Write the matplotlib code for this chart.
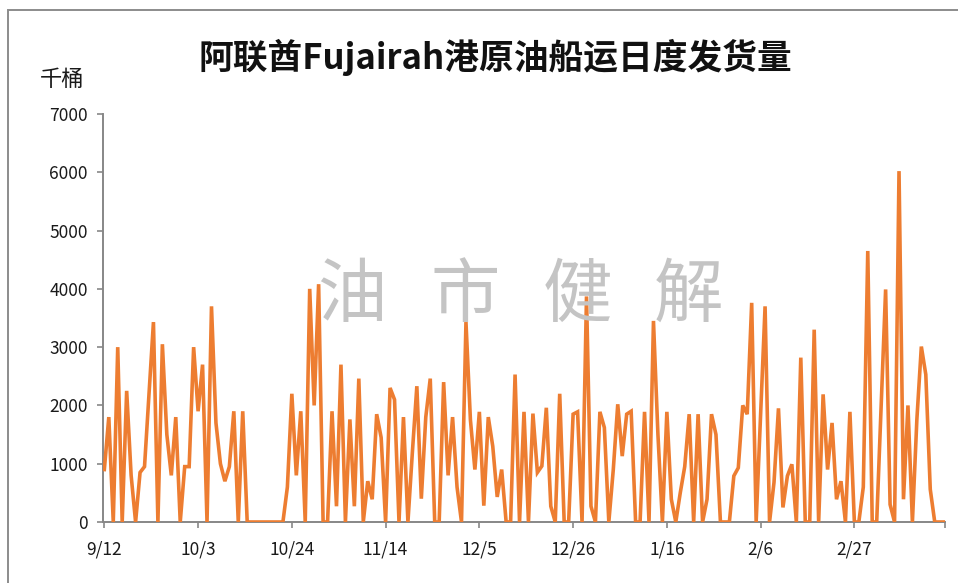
import numpy as np
import pandas as pd
import matplotlib
matplotlib.use('Agg')
import matplotlib.pyplot as plt
from matplotlib.patches import Rectangle

plt.rcParams['font.family'] = ['Noto Sans CJK SC', 'DejaVu Sans']

# daily loadings, thousand barrels, from 9/12 onward
loadings = [
    900, 1800, 0, 3000, 0, 2250, 800, 0, 850, 950,
    2200, 3430, 0, 3050, 1500, 800, 1800, 0, 950, 950,
    3000, 1900, 2700, 0, 3700, 1700, 1000, 700, 950, 1900, 0, 1900,
    0, 0, 0, 0, 0, 0, 0, 0, 0,
    600, 2200, 800, 1900, 0, 4000, 2000, 4080, 0, 0, 1900, 270, 2700, 0, 1760, 270,
    2460, 0, 700, 390, 1850, 1450, 0, 2300, 2100, 0, 1800, 0, 1200, 2330, 400, 1800, 2460, 0, 0,
    2400, 800, 1800, 600, 0, 3430, 1750, 900, 1890, 280, 1800, 1300, 430, 900, 0, 0, 2530, 0, 1890,
    0, 1860, 850, 960, 1960, 270, 0, 2200, 0, 0, 1850, 1890, 0, 3870, 270, 0, 1890, 1620, 0,
    900, 2020, 1130, 1850, 1900, 0, 0, 1890, 0, 3450, 1500, 0, 1890, 390, 0, 500, 950, 1850, 0,
    1850, 0, 390, 1850, 1500, 0, 0, 0, 790, 930, 2000, 1850, 3760, 0, 1850, 3700, 0, 680, 1950,
    250, 790, 990, 0, 2820, 0, 0, 3300, 0, 2190, 900, 1700, 390, 700, 0, 1890, 0, 0, 600, 4650,
    0, 0, 2000, 3990, 300, 0, 6020, 390, 2000, 0, 1760, 3010, 2530, 560, 0, 0, 0,
]
dates = pd.date_range('2022-09-12', periods=len(loadings), freq='D')
tick_step = 21
yticks = [0, 1000, 2000, 3000, 4000, 5000, 6000, 7000]

title = '阿联酋Fujairah港原油船运日度发货量'
unit = '千桶'
watermark = ['油', '市', '健', '解']

W, H = 958, 583
fig = plt.figure(figsize=(W / 100, H / 100), dpi=100)
ax = fig.add_axes([103 / W, (H - 522) / H, (945 - 103) / W, (522 - 114) / H])
ax.patch.set_alpha(0)

x = np.arange(len(loadings))
ax.plot(x, loadings, color='#ED7D31', lw=2.6, zorder=3, solid_joinstyle='miter')

ax.set_xlim(-0.3, len(loadings) - 1 + 0.3)
ax.set_ylim(0, 7000)
ax.set_yticks(yticks)
tick_pos = list(range(0, len(loadings), tick_step))
ax.set_xticks(tick_pos)
ax.set_xticklabels([f'{dates[i].month}/{dates[i].day}' for i in tick_pos])
ax.set_xticks([len(loadings) - 1 + 0.3], minor=True)

axis_col = '#878787'
for s in ['top', 'right']:
    ax.spines[s].set_visible(False)
for s in ['left', 'bottom']:
    ax.spines[s].set_color(axis_col)
    ax.spines[s].set_linewidth(1.4)
ax.tick_params(axis='both', which='both', direction='out', color=axis_col,
               width=1.2, length=4, labelsize=12.5, labelcolor='#1a1a1a')
ax.tick_params(axis='x', pad=9)
ax.tick_params(axis='y', pad=7)

# watermark
for ch, cx in zip(watermark, [352, 465, 577, 689]):
    fig.text(cx / W, 1 - 296 / H, ch, fontsize=50, color='#c4c4c4',
             ha='center', va='center', zorder=0)

fig.text(495 / W, 1 - 57 / H, title, fontsize=25, fontweight='bold',
         ha='center', va='center', color='#111111')
fig.text(62 / W, 1 - 79 / H, unit, fontsize=16, ha='center', va='center',
         color='#1a1a1a')

fig.patches.append(Rectangle((8 / W, -0.05), 1.1, 1.05 - 10 / H,
                             transform=fig.transFigure, fill=False,
                             edgecolor='#8c8c8c', lw=1.4))

fig.savefig('out.png', dpi=100)
